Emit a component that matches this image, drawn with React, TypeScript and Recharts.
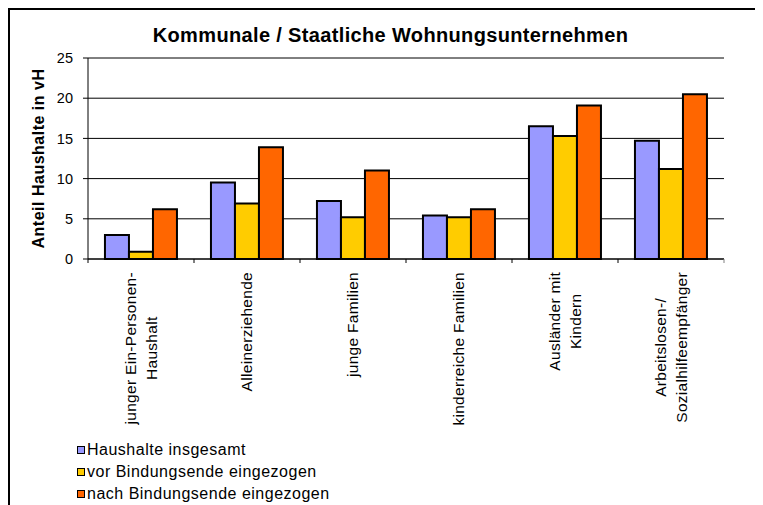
import React from "react"
import { Bar, BarChart, CartesianGrid, Legend, XAxis, YAxis } from "recharts"

// category labels, split where the original breaks the line
const categories = [
  ["junger Ein-Personen-", "Haushalt"],
  ["Alleinerziehende"],
  ["junge Familien"],
  ["kinderreiche Familien"],
  ["Ausländer mit", "Kindern"],
  ["Arbeitslosen-/", "Sozialhilfeempfänger"],
]

const insgesamt = [3.0, 9.5, 7.2, 5.4, 16.5, 14.7]
const vorBindungsende = [0.9, 6.9, 5.2, 5.2, 15.3, 11.2]
const nachBindungsende = [6.2, 13.9, 11.0, 6.2, 19.1, 20.5]

const yTicks = [0, 5, 10, 15, 20, 25]

const series = [
  { key: "insgesamt", name: "Haushalte insgesamt", color: "#9999ff" },
  { key: "vor", name: "vor Bindungsende eingezogen", color: "#ffcc00" },
  { key: "nach", name: "nach Bindungsende eingezogen", color: "#ff6600" },
]

const data = categories.map((lines, i) => ({
  name: lines.join("|"),
  insgesamt: insgesamt[i],
  vor: vorBindungsende[i],
  nach: nachBindungsende[i],
}))

const FONT = '"Liberation Sans", Arial, sans-serif'
const W = 753
const H = 495
const MARGIN = { top: 48, right: 39, bottom: 0, left: 0 }
const Y_AXIS_W = 78
const PLOT_W = W - MARGIN.left - MARGIN.right - Y_AXIS_W
const BAND = PLOT_W / categories.length
const X_FS = 15.5
const X_SPACING = 0.3
const LINE = 21

let ctx: CanvasRenderingContext2D | null = null
function measure(text: string, size: number, spacing: number) {
  if (!ctx) ctx = document.createElement("canvas").getContext("2d")
  if (!ctx) return text.length * size * 0.55
  ctx.font = `${size}px "Liberation Sans"`
  return ctx.measureText(text).width + spacing * text.length
}

function XTick(props: any) {
  const { x, y, payload, index } = props
  const lines: string[] = String(payload.value).split("|")
  const maxW = Math.max(...lines.map((l) => measure(l, X_FS, X_SPACING)))
  const n = lines.length
  return (
    <g>
      <line x1={x - BAND / 2} y1={y} x2={x - BAND / 2} y2={y + 4} stroke="#000" />
      {index === categories.length - 1 && (
        <line x1={x + BAND / 2} y1={y} x2={x + BAND / 2} y2={y + 4} stroke="#808080" />
      )}
      <g transform={`translate(${x},${y + 13}) rotate(-90)`}>
        {lines.map((l, i) => (
          <text
            key={i}
            x={-maxW / 2}
            y={0.35 * X_FS + (i - (n - 1) / 2) * LINE}
            textAnchor="middle"
            fontSize={X_FS}
            letterSpacing={X_SPACING}
            fontFamily={FONT}
            fill="#000"
          >
            {l}
          </text>
        ))}
      </g>
    </g>
  )
}

function YLabel(props: any) {
  const vb = props.viewBox || { x: 0, y: 0, height: 0 }
  const cx = vb.x + 28.5
  const cy = vb.y + vb.height / 2
  return (
    <text
      x={cx}
      y={cy}
      dy="0.35em"
      transform={`rotate(-90, ${cx}, ${cy})`}
      textAnchor="middle"
      fontSize={16}
      fontWeight="bold"
      letterSpacing={0.5}
      fontFamily={FONT}
      fill="#000"
    >
      Anteil Haushalte in vH
    </text>
  )
}

function LegendBox() {
  return (
    <div style={{ fontFamily: FONT, fontSize: 16, letterSpacing: 0.5, color: "#000" }}>
      {series.map((s) => (
        <div key={s.key} style={{ display: "flex", alignItems: "center", height: 22 }}>
          <span
            style={{
              display: "inline-block",
              boxSizing: "border-box",
              width: 8,
              height: 8,
              border: "1.5px solid #000",
              background: s.color,
            }}
          />
          <span style={{ marginLeft: 2, whiteSpace: "nowrap" }}>{s.name}</span>
        </div>
      ))}
    </div>
  )
}

export default function App() {
  return (
    <div
      style={{
        position: "relative",
        width: 770,
        height: H,
        borderLeft: "2px solid #000",
        borderTop: "2px solid #000",
        fontFamily: FONT,
      }}
    >
      <div
        style={{
          position: "absolute",
          left: 0,
          top: 14,
          width: 761,
          textAlign: "center",
          fontSize: 20,
          fontWeight: "bold",
          letterSpacing: 0.35,
          lineHeight: "22px",
          zIndex: 1,
        }}
      >
        Kommunale / Staatliche Wohnungsunternehmen
      </div>
      <BarChart width={W} height={H} data={data} margin={MARGIN} barCategoryGap="16%" barGap={0}>
        <CartesianGrid horizontal vertical={false} stroke="#000" />
        <XAxis
          dataKey="name"
          interval={0}
          height={H - MARGIN.top - 201}
          tickLine={false}
          tickSize={0}
          tickMargin={0}
          axisLine={{ stroke: "#000" }}
          tick={<XTick />}
        />
        <XAxis xAxisId="top" dataKey="name" orientation="top" height={0} tick={false} tickLine={false} axisLine={{ stroke: "#808080" }} />
        <YAxis
          width={Y_AXIS_W}
          domain={[0, 25]}
          ticks={yTicks}
          interval={0}
          tickSize={5}
          tickMargin={10}
          axisLine={{ stroke: "#000" }}
          tickLine={{ stroke: "#000" }}
          tick={{ fill: "#000", fontSize: 14.5, fontFamily: FONT }}
          label={{ content: YLabel }}
        />
        <YAxis yAxisId="r" orientation="right" width={0} domain={[0, 25]} tick={false} tickLine={false} axisLine={{ stroke: "#808080" }} />
        {series.map((s) => (
          <Bar
            key={s.key}
            dataKey={s.key}
            name={s.name}
            fill={s.color}
            stroke="#000"
            strokeWidth={2}
            isAnimationActive={false}
          />
        ))}
        <Legend
          layout="vertical"
          align="center"
          verticalAlign="middle"
          content={() => <LegendBox />}
          wrapperStyle={{ left: 67, top: 429, width: 320, height: 70 }}
        />
      </BarChart>
    </div>
  )
}
